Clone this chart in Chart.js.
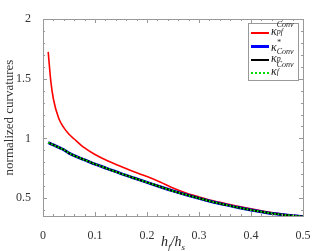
<!DOCTYPE html>
<html>
<head>
<meta charset="utf-8">
<script src="https://cdn.jsdelivr.net/npm/chart.js@4"></script>
<style>
  html, body { margin: 0; padding: 0; background: #fff; }
  #wrap { position: relative; width: 334px; height: 251px; }
  .lbl { position: absolute; font-family: "Liberation Serif", serif; color: #222; white-space: nowrap; }
  #xtitle { left: 0; width: 346px; top: 234px; text-align: center; font-size: 14px; font-style: italic; }
  #legend { left: 248px; top: 23px; width: 49px; height: 56px; border: 1px solid #999; background: #fff; }
  .row { position: absolute; left: 2px; height: 14px; }
  .swatch { position: absolute; left: 0; top: 6px; width: 18px; height: 0; }
  .txt { position: absolute; left: 20px; top: -2px; font-size: 12px; font-style: italic; line-height: 14px; }
  .txt sup, .txt sub { font-size: 8px; position: relative; }
  .stack { display: inline-block; vertical-align: middle; line-height: 7px; position: relative; top: -4px; }
  .stack span { display: block; font-size: 8px; }
</style>
</head>
<body>
<div id="wrap">
  <canvas id="chart" width="334" height="251"></canvas>
  <div id="xtitle" class="lbl">h<sub style="font-size:9px">f</sub>/h<sub style="font-size:9px">s</sub></div>
  <div id="legend" class="lbl">
    <div class="row" style="top:2px"><div class="swatch" style="border-top:2px solid #ff0000"></div>
      <div class="txt">κ<span class="stack"><span>Conv</span><span>pf</span></span></div></div>
    <div class="row" style="top:15px"><div class="swatch" style="border-top:3px solid #0000ff"></div>
      <div class="txt">κ<sup style="top:-1px">*</sup></div></div>
    <div class="row" style="top:29px"><div class="swatch" style="border-top:2px solid #000"></div>
      <div class="txt">κ<span class="stack"><span>Conv</span><span>p</span></span></div></div>
    <div class="row" style="top:42px"><div class="swatch" style="border-top:2px dotted #00dd00"></div>
      <div class="txt">κ<span class="stack"><span>Conv</span><span>f</span></span></div></div>
  </div>
</div>
<script>
// thickness ratio h_f/h_s
const hRatio = [0.01, 0.015, 0.02, 0.03, 0.04, 0.05, 0.06, 0.08, 0.1, 0.125, 0.15, 0.175, 0.2,
  0.225, 0.25, 0.275, 0.3, 0.325, 0.35, 0.375, 0.4, 0.425, 0.45, 0.475, 0.5];
const kappaPf = [1.725, 1.48, 1.33, 1.17, 1.09, 1.035, 0.995, 0.92, 0.865, 0.81, 0.765, 0.72, 0.68,
  0.635, 0.585, 0.543, 0.51, 0.48, 0.455, 0.432, 0.41, 0.39, 0.372, 0.358, 0.348];
const kappaStar = [0.965, 0.955, 0.945, 0.925, 0.905, 0.877, 0.855, 0.82, 0.785, 0.745, 0.705, 0.668, 0.632,
  0.595, 0.56, 0.528, 0.498, 0.47, 0.445, 0.421, 0.40, 0.382, 0.366, 0.354, 0.345];
const kappaP = kappaStar.slice();
const kappaF = kappaStar.slice();

const xTicks = [0, 0.1, 0.2, 0.3, 0.4, 0.5];
const yTicks = [0.5, 1, 1.5, 2];

const pts = ys => hRatio.map((x, i) => ({ x, y: ys[i] }));

// frame with inward major/minor ticks, Mathematica style
const framePlugin = {
  id: 'frame',
  afterDraw(chart) {
    const { ctx, chartArea: a, scales } = chart;
    const xs = scales.x, ys = scales.y;
    ctx.save();
    ctx.strokeStyle = '#999';
    ctx.lineWidth = 1;
    ctx.strokeRect(a.left + 0.5, a.top + 0.5, a.right - a.left, a.bottom - a.top);
    ctx.beginPath();
    for (let i = 0; i <= 25; i++) {
      const v = i * 0.02;
      const px = Math.round(xs.getPixelForValue(v)) + 0.5;
      const len = i % 5 === 0 ? 4 : 2;
      ctx.moveTo(px, a.bottom); ctx.lineTo(px, a.bottom - len);
      ctx.moveTo(px, a.top); ctx.lineTo(px, a.top + len);
    }
    for (let i = 4; i <= 20; i++) {
      const v = i * 0.1;
      const py = Math.round(ys.getPixelForValue(v)) + 0.5;
      const len = i % 5 === 0 ? 4 : 2;
      ctx.moveTo(a.left, py); ctx.lineTo(a.left + len, py);
      ctx.moveTo(a.right, py); ctx.lineTo(a.right - len, py);
    }
    ctx.stroke();
    ctx.restore();
  }
};

new Chart(document.getElementById('chart'), {
  type: 'line',
  data: {
    datasets: [
      { label: 'kappa_pf', data: pts(kappaPf), borderColor: '#ff0000', borderWidth: 1.6, order: 3 },
      { label: 'kappa*', data: pts(kappaStar), borderColor: '#0000ff', borderWidth: 3, order: 2 },
      { label: 'kappa_p', data: pts(kappaP), borderColor: '#000000', borderWidth: 2, order: 1 },
      { label: 'kappa_f', data: pts(kappaF), borderColor: '#00dd00', borderWidth: 2, borderDash: [1.5, 2], order: 0 }
    ]
  },
  options: {
    responsive: false,
    animation: false,
    events: [],
    elements: { point: { radius: 0 }, line: { tension: 0.4, cubicInterpolationMode: 'monotone' } },
    layout: { padding: { top: 19, right: 31, left: 0, bottom: 0 } },
    plugins: { legend: { display: false }, tooltip: { enabled: false } },
    scales: {
      x: {
        type: 'linear', min: 0, max: 0.5,
        afterBuildTicks: s => { s.ticks = xTicks.map(v => ({ value: v })); },
        afterFit: s => { s.height = 35; },
        grid: { display: false },
        border: { display: false },
        ticks: { color: '#333', padding: 5, font: { family: 'Liberation Serif', size: 12 }, callback: v => String(v) }
      },
      y: {
        min: 0.35, max: 2,
        afterBuildTicks: s => { s.ticks = yTicks.map(v => ({ value: v })); },
        afterFit: s => { s.width = 43; },
        grid: { display: false },
        border: { display: false },
        ticks: { color: '#333', padding: 4, font: { family: 'Liberation Serif', size: 12 }, callback: v => String(v) },
        title: { display: true, text: 'normalized curvatures', color: '#333', padding: { top: 2, bottom: 0 },
          font: { family: 'Liberation Serif', size: 13 } }
      }
    }
  },
  plugins: [framePlugin]
});
</script>
</body>
</html>
